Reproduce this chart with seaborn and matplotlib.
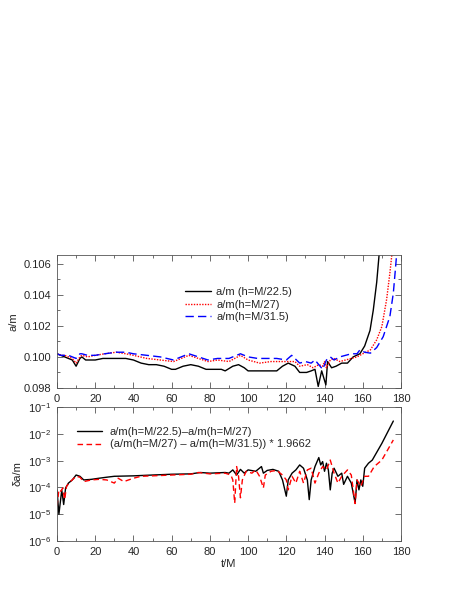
import matplotlib
matplotlib.use('Agg')
import matplotlib.pyplot as plt
import seaborn as sns
from matplotlib.ticker import (MultipleLocator, LogLocator, NullLocator,
                               LogFormatterSciNotation, FormatStrFormatter)

sns.set_style('ticks')
plt.rcParams['font.family'] = ['Liberation Sans', 'DejaVu Sans']
plt.rcParams['mathtext.default'] = 'regular'

# ---- top panel: a/m for three resolutions ----
t_a = [0, 2, 4, 6, 8, 10, 12, 13, 15, 18, 20, 24, 28, 32, 36, 40, 44, 48, 52, 56,
       60, 62, 66, 70, 74, 78, 82, 86, 88, 92, 95, 98, 100, 103, 106, 110, 115,
       118, 121, 124.5, 127, 130.6, 133, 135, 136.7, 138.5, 140.7, 141.6, 143.7,
       146, 149, 152, 155, 158.5, 161, 163.8, 165.5, 167.3, 169]
am_225 = [.1002, .1001, .1000, .0999, .0998, .0994, .0999, .1000, .0998, .0998, .0998, .0999,
          .0999, .0999, .0999, .0998, .0996, .0995, .0995, .0994, .0992, .0992, .0994, .0995,
          .0994, .0992, .0992, .0992, .0991, .0994, .0995, .0993, .0991, .0991, .0991, .0991,
          .0991, .0994, .0996, .0994, .0990, .0990, .0991, .0992, .0981, .0991, .0982, .0997,
          .0993, .0994, .0996, .0996, .1000, .1002, .1007, .1017, .1030, .1048, .1072]

t_b = [0, 2, 4, 6, 8, 10, 12, 13, 16, 20, 25, 31, 36, 40, 47, 54, 61, 65, 69, 74, 79,
       84, 90, 96, 100, 106, 112, 118.6, 124.5, 127, 131, 134, 137, 139, 140, 141, 143,
       145, 148, 151, 154, 157, 160, 164, 167.3, 170, 172.5, 174.2, 175.6]
am_27 = [.1002, .1001, .1001, .1000, .0999, .0996, .1000, .1001, .1000, .1001, .1002, .1003,
         .1002, .1001, .0999, .0998, .0997, .0999, .1001, .0999, .0997, .0998, .0997, .1001,
         .0998, .0996, .0997, .0997, .0997, .0994, .0995, .0993, .0995, .0994, .0997,
         .0993, .0998, .0999, .0997, .0998, .0999, .1000, .1002, .10045, .1011, .10195,
         .1037, .1054, .1070]

t_c = [0, 2, 4, 6, 8, 10, 12, 13, 16, 20, 25, 31, 36, 40, 47, 54, 61, 65, 69, 74, 79,
       84, 90, 96, 100, 105, 110, 115, 120, 122.8, 127, 130, 133, 135, 139, 141, 143, 145,
       148, 151, 154, 157, 158.5, 161, 164, 167.3, 170.7, 174.2, 176, 177.2, 178]
am_315 = [.1002, .1001, .1001, .1001, .1000, .0999, .1002, .1002, .1001, .1001, .1002, .1003,
          .1003, .1002, .1001, .1000, .0998, .1000, .1002, .1000, .0998, .0999, .0999, .1002,
          .1000, .0999, .0999, .0999, .0998, .1001, .0996, .0997, .0996, .0998, .0992, .0998,
          .1000, .0998, .1000, .1001, .1002, .1002, .10045, .1003, .10024, .1006, .1013,
          .1026, .1041, .1058, .1070]

# ---- bottom panel: differences ----
t_d1 = [0, 1, 2.5, 3.5, 4.5, 6, 8, 10, 12, 14, 18, 22, 26, 30, 40, 50, 60, 70, 75, 80,
        88, 90, 92, 94, 96, 98, 100, 104, 107, 108, 110, 113, 116, 118, 120, 121, 123,
        125, 127, 129, 131, 132, 133, 135, 137, 138, 139, 140, 141, 142, 143, 144, 145,
        147, 149, 150, 152, 154, 156, 157, 158, 159, 160, 161, 163, 165, 170, 176]
d1 = [8.1e-5, 1.0e-5, 8e-5, 2.3e-5, 9.5e-5, 1.45e-4, 1.9e-4, 2.9e-4, 2.6e-4, 1.9e-4,
      2.0e-4, 2.2e-4, 2.4e-4, 2.6e-4, 2.7e-4, 2.9e-4, 3.1e-4, 3.2e-4, 3.6e-4, 3.4e-4,
      3.6e-4, 3.4e-4, 4.5e-4, 2.9e-4, 4.7e-4, 3.4e-4, 4.5e-4, 4.0e-4, 6.0e-4, 3.4e-4,
      4.3e-4, 4.7e-4, 4.0e-4, 1.9e-4, 4.7e-5, 1.9e-4, 3.4e-4, 4.5e-4, 6.9e-4, 5.2e-4,
      1.9e-4, 3.5e-5, 1.9e-4, 6.0e-4, 1.3e-3, 6.9e-4, 9.2e-4, 4.0e-4, 8e-4, 4.5e-4,
      8.1e-5, 3.4e-4, 5.2e-4, 2.6e-4, 3.4e-4, 1.3e-4, 2.6e-4, 1.45e-4, 2.6e-5, 1.9e-4,
      8.1e-5, 1.9e-4, 1.1e-4, 5.2e-4, 8e-4, 1.05e-3, 4.4e-3, 3.0e-2]

t_d2 = [0, 1, 2, 3, 4, 5, 7, 10, 12, 14, 18, 22, 26, 30, 32, 35, 40, 44, 50, 60, 70, 74,
        80, 88, 91, 92, 93, 94, 95, 96, 97, 99, 102, 104, 106, 108, 109, 112, 115, 118,
        120, 121, 123, 125, 127, 129, 131, 133, 135, 137, 139, 141, 143, 145, 147, 149,
        152, 154, 156, 157, 159, 161, 163, 166, 170, 176]
d2 = [2.0e-5, 8.1e-5, 7.2e-5, 9.5e-5, 3.5e-5, 1.1e-4, 1.65e-4, 2.6e-4, 2.4e-4, 1.65e-4,
      1.9e-4, 2.0e-4, 1.9e-4, 1.45e-4, 2.2e-4, 1.65e-4, 2.2e-4, 2.6e-4, 2.7e-4, 2.9e-4,
      3.1e-4, 3.6e-4, 3.2e-4, 3.4e-4, 2.9e-4, 1.9e-4, 2.6e-5, 6.0e-4, 2.6e-4, 4.1e-5,
      1.9e-4, 4.0e-4, 3.4e-4, 4.5e-4, 2.6e-4, 9.5e-5, 2.9e-4, 4.0e-4, 4.3e-4, 2.9e-4,
      1.9e-4, 8.1e-5, 2.6e-4, 1.45e-4, 4.0e-4, 1.45e-4, 4.5e-4, 5.2e-4, 1.45e-4, 3.4e-4,
      6.0e-4, 4.5e-4, 1.05e-3, 3.4e-4, 1.45e-4, 2.6e-4, 4.5e-4, 2.9e-4, 2.5e-5, 1.9e-4,
      1.1e-4, 2.6e-4, 2.6e-4, 6.0e-4, 1.05e-3, 5.9e-3]

fig = plt.figure(figsize=(4.57, 5.91), dpi=100)
ax1 = fig.add_axes([0.1247, 0.3435, 0.7527, 0.225])
ax2 = fig.add_axes([0.1247, 0.0846, 0.7527, 0.2267])

sns.lineplot(x=t_a, y=am_225, ax=ax1, color='black', lw=1.0, label='a/m (h=M/22.5)')
sns.lineplot(x=t_b, y=am_27, ax=ax1, color='red', lw=1.0, linestyle=(0, (1, 1)),
             label='a/m(h=M/27)')
sns.lineplot(x=t_c, y=am_315, ax=ax1, color='blue', lw=1.0, linestyle=(0, (6, 3)),
             label='a/m(h=M/31.5)')

sns.lineplot(x=t_d1, y=d1, ax=ax2, color='black', lw=1.0,
             label='a/m(h=M/22.5)\u2013a/m(h=M/27)')
sns.lineplot(x=t_d2, y=d2, ax=ax2, color='red', lw=1.0, linestyle=(0, (4, 2.5)),
             label='(a/m(h=M/27) \u2013 a/m(h=M/31.5)) * 1.9662')

# top axes styling
ax1.set_xlim(0, 180)
ax1.set_ylim(0.098, 0.10655)
ax1.xaxis.set_major_locator(MultipleLocator(20))
ax1.xaxis.set_minor_locator(MultipleLocator(10))
ax1.yaxis.set_major_locator(MultipleLocator(0.002))
ax1.yaxis.set_minor_locator(MultipleLocator(0.001))
ax1.yaxis.set_major_formatter(FormatStrFormatter('%.3f'))
ax1.set_ylabel('a/m', fontsize=8)
ax1.set_xlabel('')

# bottom axes styling
ax2.set_yscale('log')
ax2.set_xlim(0, 180)
ax2.set_ylim(1e-6, 1e-1)
ax2.xaxis.set_major_locator(MultipleLocator(20))
ax2.xaxis.set_minor_locator(MultipleLocator(10))
ax2.yaxis.set_major_locator(LogLocator(base=10, numticks=10))
ax2.yaxis.set_minor_locator(NullLocator())
ax2.yaxis.set_major_formatter(LogFormatterSciNotation())
ax2.set_ylabel('\u03b4a/m', fontsize=8)
ax2.set_xlabel('t/M', fontsize=8, labelpad=2)

for ax in (ax1, ax2):
    ax.tick_params(which='both', direction='in', top=True, right=True, labelsize=8,
                   width=0.6, color='#555555', pad=4)
    ax.tick_params(which='major', length=4)
    ax.tick_params(which='minor', length=2)
    for s in ax.spines.values():
        s.set_linewidth(0.6)
        s.set_color('#555555')

ax1.legend(loc='upper left', bbox_to_anchor=(0.355, 0.80), frameon=False, fontsize=8,
           handlelength=2.4, handletextpad=0.45, labelspacing=0.22, borderpad=0)
ax2.legend(loc='upper left', bbox_to_anchor=(0.042, 0.895), frameon=False, fontsize=8,
           handlelength=2.25, handletextpad=0.7, labelspacing=0.25, borderpad=0)

fig.savefig('out.png', dpi=100)
